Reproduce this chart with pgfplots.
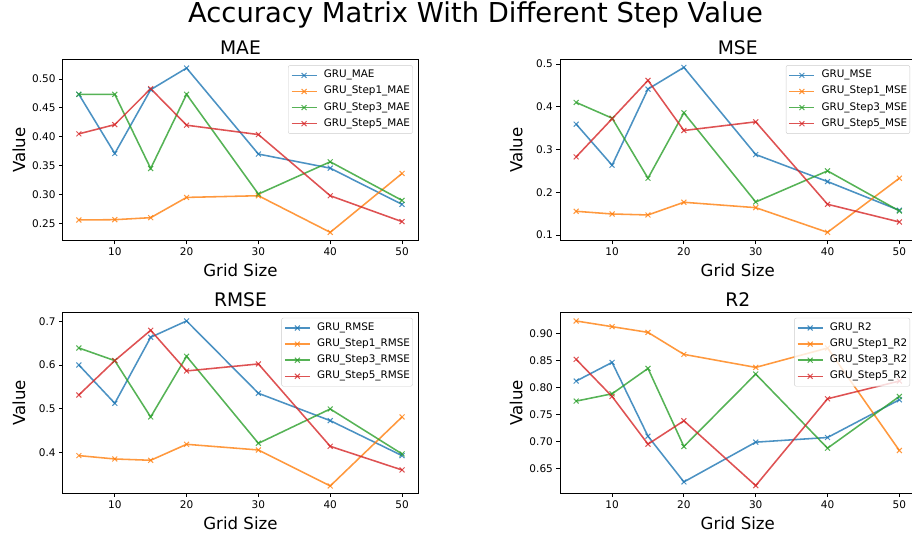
\documentclass[border=0pt]{standalone}
\usepackage{pgfplots}
\pgfplotsset{compat=1.18}
\usepackage{fontspec}
\setmainfont{DejaVu Sans}

\definecolor{tabblue}{HTML}{1F77B4}
\definecolor{taborange}{HTML}{FF7F0E}
\definecolor{tabgreen}{HTML}{2CA02C}
\definecolor{tabred}{HTML}{D62728}

\newcommand{\ttl}{\fontsize{18.7}{20}\selectfont}
\newcommand{\lbl}{\fontsize{16.6}{18}\selectfont}

\pgfplotsset{
  acc/.style={
    scale only axis, width=355.5pt, height=181pt,
    xmin=2.75, xmax=52.25,
    xtick={10,20,30,40,50},
    tick pos=left, tick align=outside,
    major tick length=3.6pt,
    tick style={black, line width=0.8pt},
    axis line style={line width=0.8pt},
    ticklabel style={font=\fontsize{10.5}{12}\selectfont},
    /pgf/number format/assume math mode=true,
    cycle list={
      {tabblue,mark=x},{taborange,mark=x},{tabgreen,mark=x},{tabred,mark=x}},
    every axis plot/.append style={line width=1.56pt, mark size=3.5pt,
      draw opacity=0.8, mark options={line width=1pt, solid}},
    legend cell align=left,
    legend image code/.code={
      \draw[mark repeat=2,mark phase=2,##1,line width=1.56pt,
        mark options={line width=1pt,solid}]
        plot coordinates {(0pt,0pt) (12.5pt,0pt) (25pt,0pt)};},
    legend style={at={(1,1)}, anchor=north east, xshift=-5.5pt, yshift=-5.5pt,
      font=\fontsize{10.4}{12}\selectfont,
      draw=black!20, rounded corners=2pt, fill=white,
      fill opacity=0.8, draw opacity=1, text opacity=1,
      inner xsep=2.5pt, inner ysep=4.5pt, row sep=5.1pt, column sep=6.4pt,
      nodes={inner sep=0pt, text height=8pt, text depth=3pt}},
  },
  two/.style={yticklabel style={/pgf/number format/.cd, fixed, fixed zerofill, precision=2}},
  one/.style={yticklabel style={/pgf/number format/.cd, fixed, fixed zerofill, precision=1}},
}

\begin{document}
\begin{tikzpicture}

\begin{axis}[acc, two, name=mae, at={(62.7pt,296.3pt)}, anchor=south west,
  ymin=0.2199, ymax=0.5335, ytick={0.25,0.30,0.35,0.40,0.45,0.50}]
\addplot coordinates {(5,0.4735)(10,0.371)(15,0.4816)(20,0.519)(30,0.370)(40,0.3456)(50,0.2828)};
\addlegendentry{GRU\_MAE}
\addplot coordinates {(5,0.2558)(10,0.2563)(15,0.2598)(20,0.2949)(30,0.2978)(40,0.2344)(50,0.3364)};
\addlegendentry{GRU\_Step1\_MAE}
\addplot coordinates {(5,0.4735)(10,0.4735)(15,0.345)(20,0.4735)(30,0.3007)(40,0.3566)(50,0.2897)};
\addlegendentry{GRU\_Step3\_MAE}
\addplot coordinates {(5,0.405)(10,0.421)(15,0.4833)(20,0.420)(30,0.4038)(40,0.2978)(50,0.2529)};
\addlegendentry{GRU\_Step5\_MAE}
\end{axis}

\begin{axis}[acc, one, name=mse, at={(560pt,296.3pt)}, anchor=south west,
  ymin=0.0867, ymax=0.5102, ytick={0.1,0.2,0.3,0.4,0.5}]
\addplot coordinates {(5,0.3594)(10,0.2633)(15,0.4414)(20,0.4922)(30,0.2883)(40,0.225)(50,0.1578)};
\addlegendentry{GRU\_MSE}
\addplot coordinates {(5,0.1555)(10,0.1492)(15,0.1469)(20,0.1766)(30,0.164)(40,0.1063)(50,0.2328)};
\addlegendentry{GRU\_Step1\_MSE}
\addplot coordinates {(5,0.4102)(10,0.3734)(15,0.2328)(20,0.3859)(30,0.1773)(40,0.25)(50,0.1563)};
\addlegendentry{GRU\_Step3\_MSE}
\addplot coordinates {(5,0.2828)(10,0.3719)(15,0.4617)(20,0.3445)(30,0.3648)(40,0.1719)(50,0.1305)};
\addlegendentry{GRU\_Step5\_MSE}
\end{axis}

\begin{axis}[acc, one, name=rmse, at={(62.7pt,43.7pt)}, anchor=south west,
  ymin=0.3061, ymax=0.7206, ytick={0.4,0.5,0.6,0.7}]
\addplot coordinates {(5,0.600)(10,0.5122)(15,0.6634)(20,0.7008)(30,0.5351)(40,0.4725)(50,0.3924)};
\addlegendentry{GRU\_RMSE}
\addplot coordinates {(5,0.3924)(10,0.3847)(15,0.3817)(20,0.4183)(30,0.4053)(40,0.3229)(50,0.4809)};
\addlegendentry{GRU\_Step1\_RMSE}
\addplot coordinates {(5,0.6389)(10,0.6099)(15,0.4809)(20,0.6198)(30,0.4206)(40,0.4992)(50,0.3962)};
\addlegendentry{GRU\_Step3\_RMSE}
\addplot coordinates {(5,0.5313)(10,0.6099)(15,0.6794)(20,0.5863)(30,0.6023)(40,0.4137)(50,0.3595)};
\addlegendentry{GRU\_Step5\_RMSE}
\end{axis}

\begin{axis}[acc, two, name=rtwo, at={(560pt,43.7pt)}, anchor=south west,
  ymin=0.605, ymax=0.9388, ytick={0.65,0.70,0.75,0.80,0.85,0.90}]
\addplot coordinates {(5,0.812)(10,0.8464)(15,0.7103)(20,0.626)(30,0.6993)(40,0.7079)(50,0.7775)};
\addlegendentry{GRU\_R2}
\addplot coordinates {(5,0.9228)(10,0.9123)(15,0.9018)(20,0.8612)(30,0.8372)(40,0.8729)(50,0.6839)};
\addlegendentry{GRU\_Step1\_R2}
\addplot coordinates {(5,0.775)(10,0.7885)(15,0.8353)(20,0.6913)(30,0.8249)(40,0.6882)(50,0.7836)};
\addlegendentry{GRU\_Step3\_R2}
\addplot coordinates {(5,0.852)(10,0.7836)(15,0.6956)(20,0.7387)(30,0.6192)(40,0.7793)(50,0.812)};
\addlegendentry{GRU\_Step5\_R2}
\end{axis}

\foreach \ax/\t in {mae/MAE, mse/MSE, rmse/RMSE, rtwo/R2}{
  \node[anchor=base, font=\ttl] at ([yshift=5.3pt]\ax.north) {\t};
  \node[anchor=base, font=\lbl] at ([yshift=-36pt]\ax.south) {Grid Size};
  \node[anchor=base, font=\lbl, rotate=90] at ([xshift=-37.7pt]\ax.west) {Value};
}

\node[anchor=base, font=\fontsize{27.4}{30}\selectfont] at (475.5pt,514pt)
  {Accuracy Matrix With Different Step Value};

\pgfresetboundingbox
\path[use as bounding box] (0,0) rectangle (912pt,537pt);
\end{tikzpicture}
\end{document}
